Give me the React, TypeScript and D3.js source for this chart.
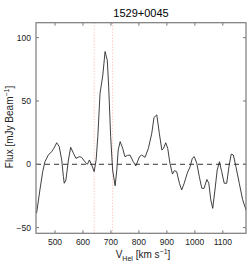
import React from "react";
import * as d3 from "d3";

const velocities = [434, 446, 456, 464, 476, 488, 496, 506, 515, 524, 530, 533, 539, 548, 556, 566, 575, 587, 595, 607, 616, 623, 631, 640, 647, 653, 661, 671, 679, 687, 692, 699, 706, 715, 721, 726, 733, 742, 750, 759, 768, 780, 789, 802, 810, 822, 834, 846, 854, 864, 873, 882, 888, 896, 903, 911, 920, 927, 935, 945, 953, 962, 973, 983, 991, 998, 1007, 1016, 1025, 1033, 1043, 1050, 1057, 1064, 1072, 1080, 1088, 1096, 1105, 1114, 1122, 1130, 1138, 1147, 1159, 1171, 1183];
const flux = [-38.7, -20.3, -5.8, 2, 7.3, 10, 12.6, 17, 14, 3.4, -9.8, -15, -12.4, 3.4, 13.4, 8.7, 4.7, 6, 5.5, 2, 0, 3.4, -0.5, -5.8, 3.4, 21.8, 56, 70.5, 89, 82, 61, 21.8, -4.5, -17, -4.5, 11.3, 17.9, 12.6, 6, 7, 7.3, 2, -1.3, 6, 7.3, 5.5, 12.6, 24.5, 37, 39, 24.5, 11.3, 12.5, 17, 12.6, 0.8, -7.7, -5, -5.8, -15, -20.3, -15, -7, -2, 4.7, 6, 0.8, -9.8, -19, -19, -12, -15, -28, -34.8, -20.3, -4.5, 2, -5.8, -15, -15, -2, 8, 7.3, -2, -15, -28, -36];
const xTicks = [500, 600, 700, 800, 900, 1000, 1100];
const yTicks = [-50, 0, 50, 100];
const markers = [640, 706];
const title = "1529+0045";

export default function App() {
  const left = 36, right = 246, top = 22.7, bottom = 233.3;
  const x = d3.scaleLinear().domain([432, 1183]).range([left, right]);
  const y = d3.scaleLinear().domain([-54.5, 111.8]).range([bottom, top]);
  const line = d3.line<number>().x((_, i) => x(velocities[i])).y((d) => y(d));
  const axisColor = "#7a7a7a";
  const font = "Liberation Sans, Arial, sans-serif";
  const tl = 3;
  return (
    <svg width={249} height={265} style={{ position: "absolute", left: 0, top: 0, background: "#fff" }}>
      <text x={141} y={17} textAnchor="middle" fontSize={11} fontFamily={font} fill="#000">{title}</text>
      {markers.map((m) => (
        <line key={m} x1={x(m)} x2={x(m)} y1={top} y2={bottom} stroke="#ff9a9a" strokeWidth={0.8} strokeDasharray="1,2" />
      ))}
      <line x1={left} x2={right} y1={y(0)} y2={y(0)} stroke="#000" strokeWidth={0.8} strokeDasharray="5,4" />
      <path d={line(flux) || ""} fill="none" stroke="#2a2a2a" strokeWidth={0.9} />
      <rect x={left} y={top} width={right - left} height={bottom - top} fill="none" stroke={axisColor} strokeWidth={1.2} />
      {xTicks.map((t) => (
        <g key={t}>
          <line x1={x(t)} x2={x(t)} y1={bottom} y2={bottom - tl} stroke={axisColor} />
          <line x1={x(t)} x2={x(t)} y1={top} y2={top + tl} stroke={axisColor} />
          <text x={x(t)} y={245} textAnchor="middle" fontSize={8.5} fontFamily={font} fill="#222">{t}</text>
        </g>
      ))}
      {yTicks.map((t) => (
        <g key={t}>
          <line x1={left} x2={left + tl} y1={y(t)} y2={y(t)} stroke={axisColor} />
          <line x1={right} x2={right - tl} y1={y(t)} y2={y(t)} stroke={axisColor} />
          <text x={31} y={y(t) + 3} textAnchor="end" fontSize={8.5} fontFamily={font} fill="#222">{t === -50 ? "\u221250" : t}</text>
        </g>
      ))}
      <text transform="translate(13,127) rotate(-90)" textAnchor="middle" fontSize={10} fontFamily={font} fill="#222">
        Flux [mJy Beam<tspan dy={-4} fontSize={7}>−1</tspan><tspan dy={4}>]</tspan>
      </text>
      <text x={143} y={258} textAnchor="middle" fontSize={10} fontFamily={font} fill="#222">
        V<tspan dy={3} fontSize={7}>Hel</tspan><tspan dy={-3}> [km s</tspan><tspan dy={-4} fontSize={7}>−1</tspan><tspan dy={4}>]</tspan>
      </text>
    </svg>
  );
}
